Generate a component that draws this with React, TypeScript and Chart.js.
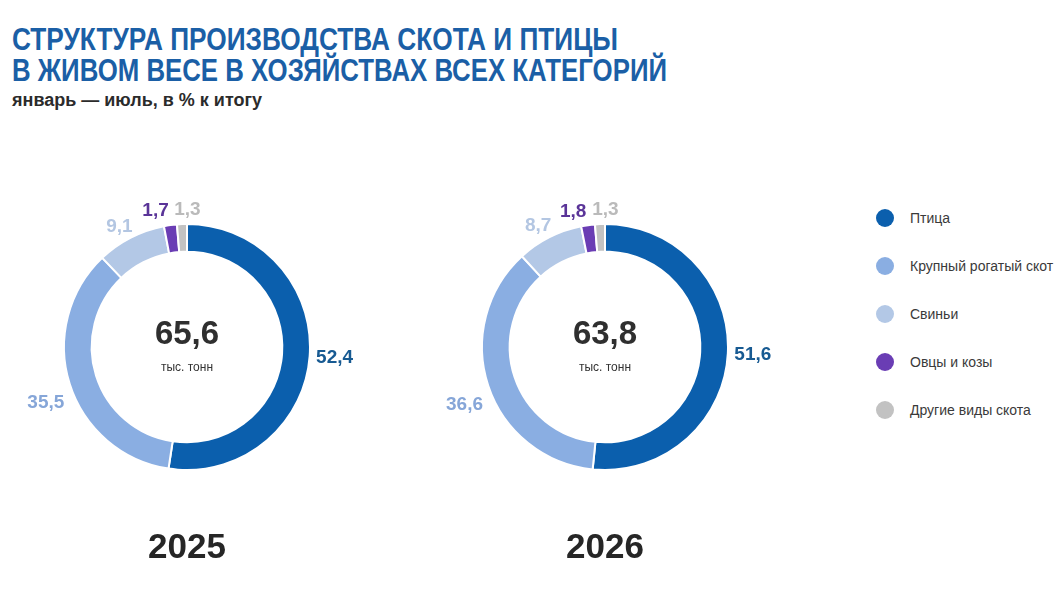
import React, { useEffect, useRef } from 'react';
import { Chart, registerables } from 'chart.js';

Chart.register(...registerables);

const categories = ['Птица', 'Крупный рогатый скот', 'Свиньи', 'Овцы и козы', 'Другие виды скота'];
const values2025 = [52.4, 35.5, 9.1, 1.7, 1.3];
const values2026 = [51.6, 36.6, 8.7, 1.8, 1.3];
const totals = ['65,6', '63,8'];
const years = ['2025', '2026'];
const segmentColors = ['#0b5fad', '#8aaee2', '#b3c8e6', '#6a3db4', '#c2c2c2'];
const labelColors = ['#175a92', '#86a6d8', '#b3c6e2', '#5a3498', '#bababa'];

const fmt = (v: number) => v.toFixed(1).replace('.', ',');

const outsideLabels = {
    id: 'outsideLabels',
    afterDatasetsDraw(chart: any) {
        const ctx = chart.ctx;
        const meta = chart.getDatasetMeta(0);
        const data = chart.data.datasets[0].data as number[];
        ctx.save();
        ctx.font = 'bold 19px "Liberation Sans", Arial, sans-serif';
        ctx.textAlign = 'center';
        ctx.textBaseline = 'middle';
        meta.data.forEach((arc: any, i: number) => {
            const mid = (arc.startAngle + arc.endAngle) / 2;
            let r = arc.outerRadius + 25;
            if (i >= 3) r = arc.outerRadius + 14;
            let x = arc.x + Math.cos(mid) * r;
            let y = arc.y + Math.sin(mid) * r;
            if (i === 3) x -= 13;
            if (i === 4) x += 6;
            if (i === 1 || i === 2) y += 11;
            ctx.fillStyle = labelColors[i];
            ctx.fillText(fmt(data[i]), x, y);
        });
        ctx.restore();
    },
};

interface DonutProps {
    values: number[];
}

const Donut: React.FC<DonutProps> = ({ values }) => {
    const chartRef = useRef<HTMLCanvasElement>(null);

    useEffect(() => {
        let chartInstance: Chart | undefined;
        if (chartRef.current) {
            const ctx = chartRef.current.getContext('2d');
            if (ctx) {
                chartInstance = new Chart(ctx, {
                    type: 'doughnut',
                    data: {
                        labels: categories,
                        datasets: [{
                            data: values,
                            backgroundColor: segmentColors,
                            borderColor: '#ffffff',
                            borderWidth: 2,
                        }],
                    },
                    options: {
                        animation: false,
                        responsive: false,
                        cutout: '77.5%',
                        layout: { padding: 56 },
                        plugins: {
                            legend: { display: false },
                            tooltip: { enabled: false },
                        },
                    },
                    plugins: [outsideLabels],
                });
            }
        }
        return () => {
            if (chartInstance) {
                chartInstance.destroy();
            }
        };
    }, [values]);

    return <canvas ref={chartRef} width={360} height={360} style={{ width: 360, height: 360 }}></canvas>;
};

const centers = [187, 605];

// squeeze a title line to the given width (no condensed font installed)
const FitLine: React.FC<{ text: string; width: number }> = ({ text, width }) => {
    const ref = useRef<HTMLSpanElement>(null);
    useEffect(() => {
        const el = ref.current;
        if (el) {
            const w = el.getBoundingClientRect().width;
            el.style.transform = `scaleX(${width / w})`;
        }
    }, [text, width]);
    return (
        <div style={{ whiteSpace: 'nowrap' }}>
            <span ref={ref} style={{ display: 'inline-block', transformOrigin: 'left center' }}>{text}</span>
        </div>
    );
};

const App: React.FC = () => {
    useEffect(() => {
        document.body.style.margin = '0';
    }, []);

    return (
        <div style={{ position: 'relative', width: 1062, height: 592, background: '#fff', fontFamily: '"Liberation Sans", Arial, sans-serif', overflow: 'hidden' }}>
            <div style={{ position: 'absolute', left: 12, top: 24, color: '#1b5fa6', fontWeight: 700, fontSize: 31, lineHeight: '31px' }}>
                <FitLine text="СТРУКТУРА ПРОИЗВОДСТВА СКОТА И ПТИЦЫ" width={606} />
                <FitLine text="В ЖИВОМ ВЕСЕ В ХОЗЯЙСТВАХ ВСЕХ КАТЕГОРИЙ" width={655} />
            </div>
            <div style={{ position: 'absolute', left: 12, top: 90, color: '#2b2b2b', fontWeight: 700, fontSize: 18 }}>
                январь — июль, в % к итогу
            </div>
            {[values2025, values2026].map((vals, k) => (
                <React.Fragment key={k}>
                    <div style={{ position: 'absolute', left: centers[k] - 180, top: 167 }}>
                        <Donut values={vals} />
                    </div>
                    <div style={{ position: 'absolute', left: centers[k] - 80, width: 160, top: 314, textAlign: 'center', color: '#2f2f2f', fontWeight: 700, fontSize: 33 }}>
                        {totals[k]}
                    </div>
                    <div style={{ position: 'absolute', left: centers[k] - 80, width: 160, top: 360, textAlign: 'center', color: '#333', fontSize: 12 }}>
                        тыс. тонн
                    </div>
                    <div style={{ position: 'absolute', left: centers[k] - 80, width: 160, top: 526, textAlign: 'center', color: '#262626', fontWeight: 700, fontSize: 35 }}>
                        {years[k]}
                    </div>
                </React.Fragment>
            ))}
            {categories.map((c, i) => (
                <div key={c} style={{ position: 'absolute', left: 876, top: 209 + i * 48, display: 'flex', alignItems: 'center' }}>
                    <span style={{ width: 18, height: 18, borderRadius: 9, background: segmentColors[i], display: 'inline-block' }}></span>
                    <span style={{ marginLeft: 16, fontSize: 14, color: '#3a3a3a' }}>{c}</span>
                </div>
            ))}
        </div>
    );
};

export default App;
